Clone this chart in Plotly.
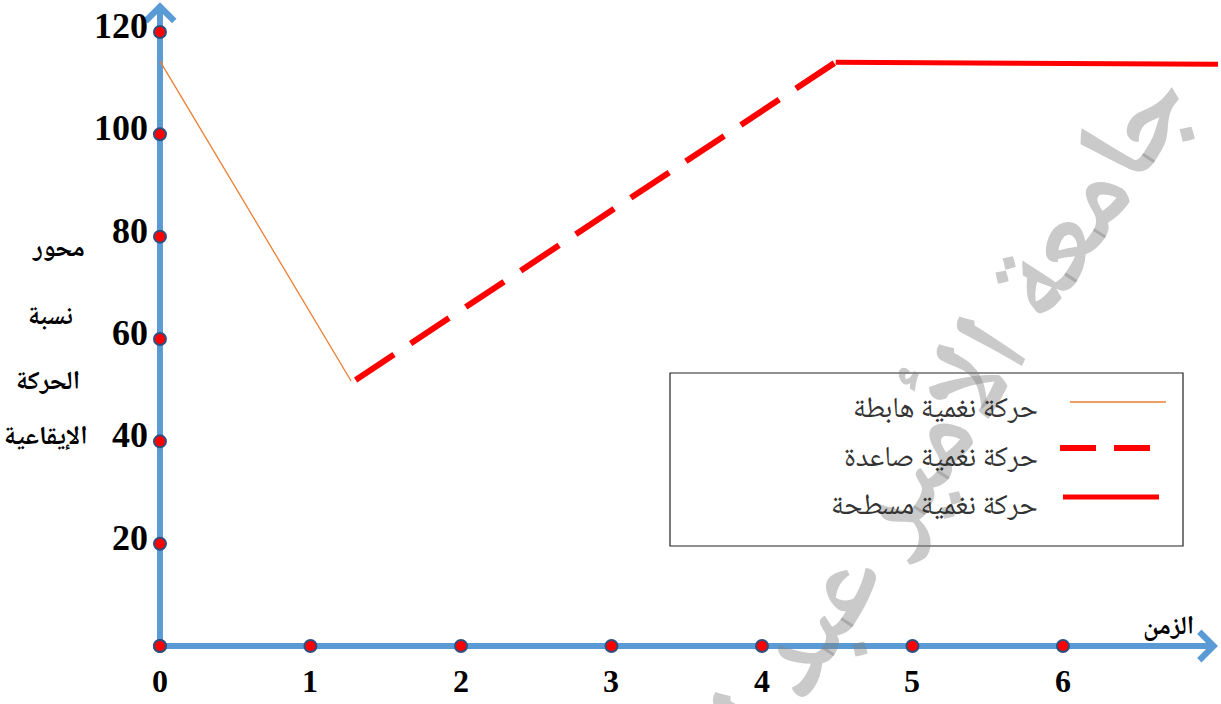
import plotly.graph_objects as go

# ---------------- data ----------------
x_ticks = [0, 1, 2, 3, 4, 5, 6]
y_ticks = [0, 20, 40, 60, 80, 100, 120]

desc_x = [0.0, 1.27]          # حركة نغمية هابطة
desc_y = [114.3, 51.8]
asc_x = [1.30, 4.49]          # حركة نغمية صاعدة
asc_y = [52.0, 114.1]
flat_x = [4.49, 7.03]         # حركة نغمية مسطحة
flat_y = [114.1, 113.7]

series_names = ["حركة نغمية هابطة", "حركة نغمية صاعدة", "حركة نغمية مسطحة"]
y_title_lines = ["محور", "نسبة", "الحركة", "الإيقاعية"]
x_title = "الزمن"
watermark = "جامعة الأمير عبد القادر"

X_END = 7.03
Y_END = 125.8

AXIS_BLUE = "#5B9BD5"
ARABIC = "Noto Naskh Arabic, Amiri, Noto Sans Arabic, DejaVu Sans, sans-serif"
SERIF = "Liberation Serif, Times New Roman, serif"

W, H = 1221, 704


def px(x):
    return x / W


def py(y):
    return 1 - y / H


fig = go.Figure()

# axis lines
fig.add_trace(go.Scatter(x=[0, 0], y=[0, Y_END - 1.5], mode="lines",
                         line=dict(color=AXIS_BLUE, width=6), hoverinfo="skip"))
fig.add_trace(go.Scatter(x=[0, X_END - 0.05], y=[0, 0], mode="lines",
                         line=dict(color=AXIS_BLUE, width=6), hoverinfo="skip"))

# series
fig.add_trace(go.Scatter(x=desc_x, y=desc_y, mode="lines", name=series_names[0],
                         line=dict(color="#ED7D31", width=1.3)))
fig.add_trace(go.Scatter(x=asc_x, y=asc_y, mode="lines", name=series_names[1],
                         line=dict(color="#FF0000", width=6, dash="46px,20px")))
fig.add_trace(go.Scatter(x=flat_x, y=flat_y, mode="lines", name=series_names[2],
                         line=dict(color="#FF0000", width=5)))

# tick dots
dot_marker = dict(size=12, color="#FF0000", line=dict(color="#2F4F7F", width=2))
fig.add_trace(go.Scatter(x=[0] * len(y_ticks), y=y_ticks, mode="markers",
                         marker=dot_marker, hoverinfo="skip"))
fig.add_trace(go.Scatter(x=x_ticks, y=[0] * len(x_ticks), mode="markers",
                         marker=dot_marker, hoverinfo="skip"))

annotations = []
# watermark
annotations.append(dict(xref="paper", yref="paper", x=px(905), y=py(500),
                        xanchor="center", yanchor="middle",
                        text="<b>" + watermark + "</b>", showarrow=False, textangle=-57,
                        font=dict(family=ARABIC, size=118, color="rgba(128,128,128,0.42)")))
# arrow heads
annotations.append(dict(x=0, y=Y_END, ax=0, ay=Y_END - 3, xref="x", yref="y", axref="x", ayref="y",
                        text="", showarrow=True, arrowhead=4, arrowsize=1.1, arrowwidth=5,
                        arrowcolor=AXIS_BLUE))
annotations.append(dict(x=X_END, y=0, ax=X_END - 0.1, ay=0, xref="x", yref="y", axref="x", ayref="y",
                        text="", showarrow=True, arrowhead=4, arrowsize=1.1, arrowwidth=5,
                        arrowcolor=AXIS_BLUE))
# tick labels
for v in y_ticks[1:]:
    annotations.append(dict(x=0, y=v, xref="x", yref="y", text="<b>%d</b>" % v, showarrow=False,
                            xanchor="right", yanchor="middle", xshift=-10, yshift=6,
                            font=dict(family=SERIF, size=36, color="black")))
for v in x_ticks:
    annotations.append(dict(x=v, y=0, xref="x", yref="y", text="<b>%d</b>" % v, showarrow=False,
                            xanchor="center", yanchor="middle", yshift=-35, borderpad=0,
                            font=dict(family=SERIF, size=32, color="black")))
# axis titles
for line, cx, cy in zip(y_title_lines, [58, 50, 48, 46], [250, 318, 383, 438]):
    annotations.append(dict(xref="paper", yref="paper", x=px(cx), y=py(cy),
                            xanchor="center", yanchor="middle",
                            text="<b>" + line + "</b>", showarrow=False,
                            font=dict(family=ARABIC, size=26, color="black")))
annotations.append(dict(xref="paper", yref="paper", x=px(1168), y=py(628),
                        xanchor="center", yanchor="middle",
                        text="<b>" + x_title + "</b>", showarrow=False,
                        font=dict(family=ARABIC, size=26, color="black")))

# legend (right-to-left style)
legend_text_y = [410, 459, 507]
for name, cy in zip(series_names, legend_text_y):
    annotations.append(dict(xref="paper", yref="paper", x=px(1040), y=py(cy),
                            xanchor="right", yanchor="middle", text=name, showarrow=False,
                            font=dict(family=ARABIC, size=29, color="#333333")))

shapes = [
    dict(type="rect", xref="paper", yref="paper", x0=px(670), x1=px(1183),
         y0=py(546), y1=py(373), line=dict(color="#222222", width=1.2),
         fillcolor="rgba(255,255,255,0.6)", layer="below"),
    dict(type="line", xref="paper", yref="paper", x0=px(1070), x1=px(1166),
         y0=py(402), y1=py(402), line=dict(color="#ED7D31", width=1.3)),
    dict(type="line", xref="paper", yref="paper", x0=px(1060), x1=px(1160),
         y0=py(448), y1=py(448), line=dict(color="#FF0000", width=6, dash="36px,18px")),
    dict(type="line", xref="paper", yref="paper", x0=px(1063), x1=px(1159),
         y0=py(497), y1=py(497), line=dict(color="#FF0000", width=5)),
]

fig.update_layout(
    width=W, height=H,
    margin=dict(l=0, r=0, t=0, b=0),
    paper_bgcolor="white", plot_bgcolor="white",
    showlegend=False,
    xaxis=dict(visible=False, range=[-1.063, 7.05], fixedrange=True),
    yaxis=dict(visible=False, range=[-11.33, 126.25], fixedrange=True),
    annotations=annotations,
    shapes=shapes,
)

fig.write_html("out.html")
